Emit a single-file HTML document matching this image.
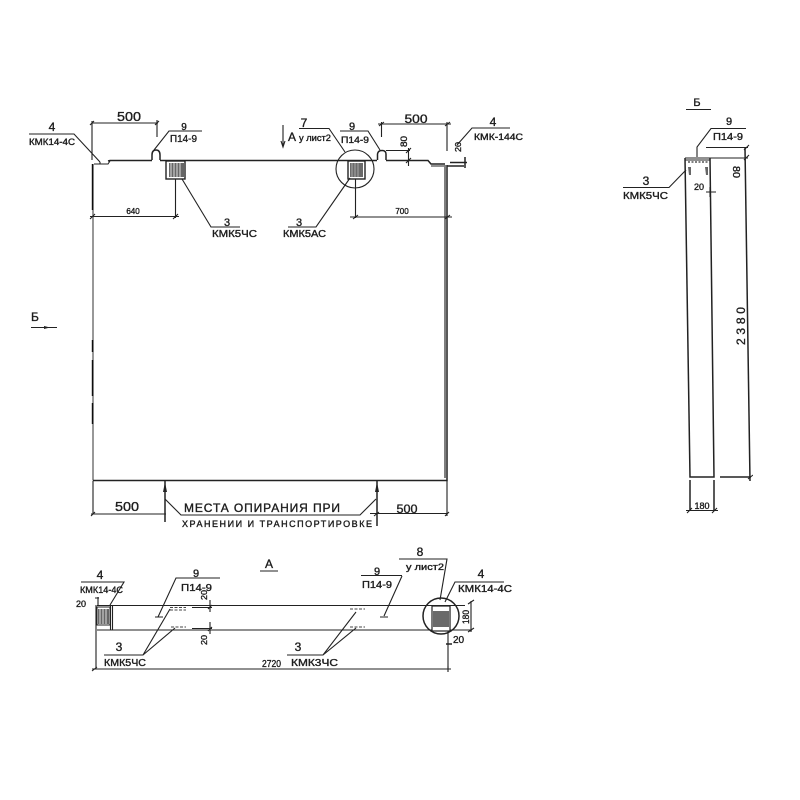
<!DOCTYPE html>
<html><head><meta charset="utf-8"><style>
html,body{margin:0;padding:0;background:#fff;width:800px;height:800px;overflow:hidden}
svg{display:block}
text{font-family:"Liberation Sans",sans-serif;fill:#1c1c1c;stroke:#1c1c1c;stroke-width:.35}
.l{fill:none;stroke:#222;stroke-width:1.1}
.t{stroke-width:1.5}
.g{fill:none;stroke:#555;stroke-width:1.5}
</style></head><body>
<svg width="800" height="800" viewBox="0 0 800 800" xmlns="http://www.w3.org/2000/svg">
<defs><filter id="b" x="0" y="0" width="100%" height="100%"><feGaussianBlur stdDeviation="0.3"/></filter></defs>
<g filter="url(#b)">
<!-- Main front view -->
<path class="l t" d="M108 161 L110 160.5 H152 M160 160.5 H377 M386 160.5 H428 L431 164 H445"/>
<path class="l" d="M94 164 H100 V162 M100 164 H108 L110 161 M431 166 H444"/>
<path d="M93 164 V480.5" stroke="#777" stroke-width="1.5" fill="none"/>
<path class="l t" d="M93 480.5 H447 V165"/>
<path class="g" d="M445 165 V478"/>
<path d="M92.5 164 V210 M92.5 340 V352 M92.5 360 V396 M92.5 403 V424" stroke="#111" stroke-width="1.4" fill="none"/>
<!-- bumps -->
<path class="l t" d="M152 160 V155 Q152 150 156 150 Q160 150 160 155 V160"/>
<path class="l t" d="M377.500 160 V154 Q378 150.500 382 150.500 Q386 150.500 386 154 V160"/>
<!-- embed boxes -->
<rect x="166" y="161" width="19" height="18" fill="#fff" stroke="#222" stroke-width="1.4"/>
<rect x="169" y="163" width="15" height="14" fill="#666"/>
<path d="M171 163 V177 M174 163 V177 M177 163 V177 M180 163 V177" stroke="#ddd" stroke-width="1"/>
<rect x="348" y="161" width="17" height="18" fill="#fff" stroke="#222" stroke-width="1.400"/>
<rect x="350" y="163" width="13" height="14" fill="#6a6a6a"/>
<path d="M352 163 V177 M355 163 V177 M358 163 V177" stroke="#aaa" stroke-width="1"/>
<circle cx="355" cy="169" r="19" class="l"/>
<!-- top-left dims -->
<path class="l" d="M92 123 H158 M92 121 V160 M157 120 V137 M90 125 L94 121 M155 125 L159 121"/>
<text x="129" y="121" font-size="13" text-anchor="middle" textLength="24" lengthAdjust="spacingAndGlyphs">500</text>
<path class="l" d="M29 134 H74 L100 162"/>
<text x="52" y="131" font-size="12" text-anchor="middle">4</text>
<text x="29" y="145" font-size="9" textLength="46" lengthAdjust="spacingAndGlyphs">КМК14-4С</text>
<path class="l" d="M154 150 L169 131 H202"/>
<text x="184" y="130" font-size="10" text-anchor="middle">9</text>
<text x="170" y="142" font-size="10" textLength="27" lengthAdjust="spacingAndGlyphs">П14-9</text>
<path class="l" d="M90 216.500 H179 M175.500 179 V218 M90 219 L95 214 M173 219 L178 214"/>
<text x="133" y="214" font-size="8" text-anchor="middle">640</text>
<path class="l" d="M182 179 L211 227 H240"/>
<text x="227" y="226" font-size="11" text-anchor="middle">3</text>
<text x="212" y="237" font-size="10" textLength="45" lengthAdjust="spacingAndGlyphs">КМК5ЧС</text>
<!-- top-right dims -->
<path class="l" d="M283 125 V147 M281 141 L283 147 L285 141"/>
<text x="288" y="141" font-size="12">А</text>
<path class="l" d="M299 128.500 H329 L345 152"/>
<text x="304" y="127" font-size="12" text-anchor="middle">7</text>
<text x="299" y="141" font-size="9" textLength="32" lengthAdjust="spacingAndGlyphs">у лист2</text>
<path class="l" d="M340 131 H368 L380 150"/>
<text x="352" y="130" font-size="11" text-anchor="middle">9</text>
<text x="341" y="143" font-size="9" textLength="28" lengthAdjust="spacingAndGlyphs">П14-9</text>
<path class="l" d="M386 150.500 H410 M408.500 148 V166 M406 153 L411 148 M406 163 L411 158"/>
<text transform="translate(407,147) rotate(-90)" font-size="9" textLength="11" lengthAdjust="spacingAndGlyphs">80</text>
<path class="l" d="M378 124 H451 M381.500 122 V137 M447 122 V151 M379 126 L384 122 M445 126 L450 122"/>
<text x="416" y="123" font-size="12" text-anchor="middle" textLength="23" lengthAdjust="spacingAndGlyphs">500</text>
<path class="l" d="M510 128 H472 L457 145"/>
<text x="493" y="126" font-size="12" text-anchor="middle">4</text>
<text x="474" y="140" font-size="9" textLength="49" lengthAdjust="spacingAndGlyphs">КМК-144С</text>
<text transform="translate(461,152) rotate(-90)" font-size="8" textLength="10" lengthAdjust="spacingAndGlyphs">20</text>
<path class="l t" d="M450 162.500 H467 M465 157 V168 M447 166 H464"/>
<path class="l" d="M350 217 H452 M355.500 179 V218 M353 219 L358 215 M445 219 L450 215"/>
<text x="402" y="214" font-size="8" text-anchor="middle">700</text>
<path class="l" d="M350 178 L316 227 H288"/>
<text x="299" y="226" font-size="11" text-anchor="middle">3</text>
<text x="283" y="237" font-size="10" textLength="43" lengthAdjust="spacingAndGlyphs">КМК5АС</text>
<!-- Б arrow left -->
<text x="31" y="321" font-size="12">Б</text>
<path class="l" d="M31 327.500 H57"/>
<path d="M44 326 L50 327.500 L44 329 Z" fill="#222"/>
<!-- bottom dims of main view -->
<path class="l" d="M93 481 V514 M91 514 H166 M91 516 L95 512"/>
<text x="127" y="511" font-size="13" text-anchor="middle" textLength="24" lengthAdjust="spacingAndGlyphs">500</text>
<path class="l t" d="M165 481 V522 M377 481 V526"/>
<path d="M163 492 L165 482 L167 492 Z M375 492 L377 482 L379 492 Z" fill="#222"/>
<path class="l" d="M165 499 L181 515 H360 L376 499 M370 513.500 H447 M447 480 V516 M374 516 L379 512 M445 516 L449 512"/>
<text x="407" y="513" font-size="12" text-anchor="middle" textLength="21" lengthAdjust="spacingAndGlyphs">500</text>
<text x="184" y="512" font-size="12" textLength="156" lengthAdjust="spacing">МЕСТА ОПИРАНИЯ ПРИ</text>
<text x="182" y="527" font-size="9" textLength="190" lengthAdjust="spacing">ХРАНЕНИИ И ТРАНСПОРТИРОВКЕ</text>
<!-- Side view Б -->
<text x="697" y="106" font-size="11" text-anchor="middle">Б</text>
<path class="l" d="M686 109.500 H711"/>
<path class="l" d="M746 128.500 H711 L697 147 V157 M706 147.500 H748 M685 158 H748 M685 160 H710"/>
<text x="729" y="125" font-size="11" text-anchor="middle">9</text>
<text x="713" y="140" font-size="10" textLength="30" lengthAdjust="spacingAndGlyphs">П14-9</text>
<path class="l t" d="M685 158 L690 477 H714 L710 158"/>
<path class="l t" d="M745 148 L750 481 M720 477 H751"/>
<path d="M688 167 H691 V175 H689 Z M705 167 H708 V175 H706 Z" fill="#666"/>
<path d="M688 162 H708" stroke="#555" stroke-width="1.500" stroke-dasharray="2 1.500"/>
<path class="l" d="M744 150 L749 145 M744 160 L749 155 M748 479 L753 475"/>
<path class="l" d="M706 192 H716 M710 187 V197"/>
<text x="699" y="190" font-size="9" text-anchor="middle">20</text>
<text transform="translate(733,166) rotate(90)" font-size="10" textLength="12" lengthAdjust="spacingAndGlyphs">80</text>
<text transform="translate(745,345) rotate(-90)" font-size="12" textLength="38" lengthAdjust="spacing">2380</text>
<path class="l" d="M623 187.500 H669 L686 170"/>
<text x="646" y="185" font-size="12" text-anchor="middle">3</text>
<text x="623" y="199" font-size="10" textLength="45" lengthAdjust="spacingAndGlyphs">КМК5ЧС</text>
<path class="l t" d="M690 480 V510 M714 480 V510"/>
<path class="l" d="M686 510.500 H718 M687 513 L692 508 M712 513 L717 508"/>
<text x="702" y="509" font-size="9" text-anchor="middle">180</text>
<!-- Plan view А -->
<text x="269" y="568" font-size="12" text-anchor="middle">А</text>
<path class="l" d="M260 571 H278"/>
<path class="l" d="M97 605.500 H465 M97 630 H472 M96 605 V669 M110.500 605 V630 M112.500 605 V630 M448 605 V669 M450 605 V631"/>
<rect x="97" y="607" width="13" height="18" fill="#fff" stroke="#222"/>
<rect x="98" y="609" width="11" height="15" fill="#666"/>
<path d="M100 609 V624 M103 609 V624 M106 609 V624" stroke="#ddd"/>
<rect x="432" y="606" width="18" height="25" fill="#fff" stroke="#222" stroke-width="1.200"/>
<rect x="433" y="611" width="16" height="16" fill="#6a6a6a"/>
<circle cx="441" cy="616" r="18" class="l t"/>
<path class="l" d="M92 669 H451 M92 671 L97 667 M448 672 V666"/>
<text x="262" y="667" font-size="10" textLength="19" lengthAdjust="spacingAndGlyphs">2720</text>
<path class="l" d="M81 582 H124 L110 605"/>
<text x="100" y="579" font-size="12" text-anchor="middle">4</text>
<text x="80" y="593" font-size="9" textLength="43" lengthAdjust="spacingAndGlyphs">КМК14-4С</text>
<text x="76" y="607" font-size="9">20</text>
<path class="l" d="M98 597 V605 M95 598 H99"/>
<path class="l" d="M104 655 H143 L170 609 M143 655 L175 628"/>
<text x="119" y="651" font-size="12" text-anchor="middle">3</text>
<text x="104" y="666" font-size="10" textLength="42" lengthAdjust="spacingAndGlyphs">КМК5ЧС</text>
<path class="l" d="M220 578 H176 L158 617 M155 617 H163"/>
<text x="196" y="577" font-size="11" text-anchor="middle">9</text>
<text x="181" y="591" font-size="10" textLength="31" lengthAdjust="spacingAndGlyphs">П14-9</text>
<path d="M170 607.500 H186 M170 610 H186 M171 627 H186" stroke="#444" stroke-width="1" stroke-dasharray="3 1.500" fill="none"/>
<path class="l" d="M192 607.500 H212 M192 628.500 H212 M210 600 V612 M210 622 V634 M208 609 L212 605 M208 631 L212 627"/>
<text transform="translate(207,600) rotate(-90)" font-size="8" textLength="10" lengthAdjust="spacingAndGlyphs">20</text>
<text transform="translate(207,645) rotate(-90)" font-size="8" textLength="10" lengthAdjust="spacingAndGlyphs">20</text>
<path d="M350 609 H365 M350 627 H365" stroke="#444" stroke-width="1" stroke-dasharray="3 1.500" fill="none"/>
<path class="l" d="M402 575.500 H361 M402 576 L384 616 M380 617 H388"/>
<text x="377" y="575" font-size="11" text-anchor="middle">9</text>
<text x="362" y="588" font-size="10" textLength="30" lengthAdjust="spacingAndGlyphs">П14-9</text>
<path class="l" d="M399 559 H447 L440 600"/>
<text x="420" y="556" font-size="12" text-anchor="middle">8</text>
<text x="406" y="570" font-size="9" textLength="38" lengthAdjust="spacingAndGlyphs">у лист2</text>
<path class="l" d="M504 582 H455 L445 602"/>
<text x="481" y="578" font-size="12" text-anchor="middle">4</text>
<text x="458" y="592" font-size="10" textLength="54" lengthAdjust="spacingAndGlyphs">КМК14-4С</text>
<path class="l" d="M471 601 V632 M468 604 L474 600 M468 632 L474 628"/>
<text transform="translate(469,624) rotate(-90)" font-size="9" textLength="14" lengthAdjust="spacingAndGlyphs">180</text>
<path class="l t" d="M446 644 H452"/>
<text x="453" y="643" font-size="10">20</text>
<path class="l" d="M287 655 H323 L356 612 M323 655 L356 628"/>
<text x="298" y="651" font-size="12" text-anchor="middle">3</text>
<text x="291" y="666" font-size="10" textLength="47" lengthAdjust="spacingAndGlyphs">КМК3ЧС</text>
</g>
</svg>
</body></html>
